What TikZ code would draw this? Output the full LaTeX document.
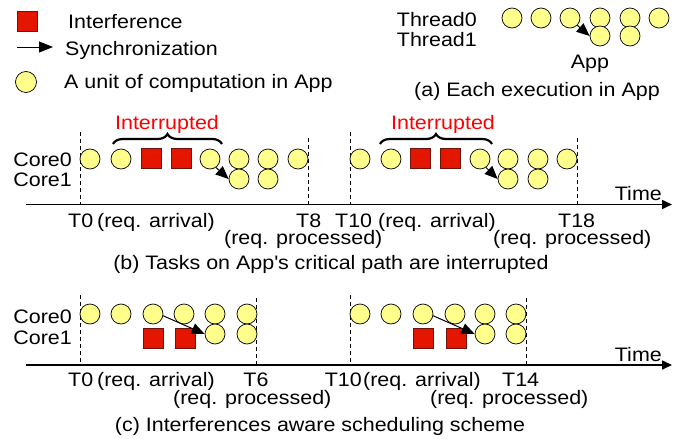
\documentclass[tikz,border=0pt]{standalone}
\usepackage{fontspec}
\setmainfont{Liberation Sans}[FakeStretch=1.1]
\usetikzlibrary{arrows.meta,decorations.pathreplacing}
\definecolor{unitfill}{RGB}{255,255,140}
\definecolor{intred}{RGB}{228,22,0}
\definecolor{intedge}{RGB}{110,20,10}
\definecolor{alertred}{RGB}{255,0,0}

\begin{document}
\begin{tikzpicture}[x=1pt,y=-1pt,
  unit/.style={circle,draw=black,line width=0.7pt,fill=unitfill,minimum size=20pt,inner sep=0pt},
  intf/.style={rectangle,draw=intedge,line width=0.7pt,fill=intred,minimum size=20pt,inner sep=0pt},
  sync/.style={line width=1pt,-{Triangle[length=13pt,width=11pt]}},
  fnt/.style={inner sep=0pt,font=\fontsize{19.5}{22}\selectfont},
  txt/.style={fnt,anchor=base west},
  ctxt/.style={fnt,anchor=base},
  rtxt/.style={fnt,anchor=base east},
  tick/.style={dashed,dash pattern=on 4pt off 3pt,line width=0.8pt},
  timeaxis/.style={line width=1.6pt,-{Triangle[length=10pt,width=9pt]}},
  brc/.style={decorate,decoration={brace,amplitude=10pt},line width=2.2pt}
]
\useasboundingbox (0,0) rectangle (689,439);

% ---------------- legend ----------------
\node[intf] (lgsq) at (27,21) {};
\node[txt] (lgint) at (68,28) {Interference};
\coordinate (lgA) at (17,47);
\coordinate (lgB) at (53,47);
\draw[line width=1pt,-{Triangle[length=14pt,width=11pt]}] (lgA) -- (lgB);
\node[txt] (lgsync) at (65,55) {Synchronization};
\node[unit,minimum size=21pt] (lgunit) at (26,82) {};
\node[txt] (lgunittxt) at (64,88) {A unit of computation in App};

% ---------------- (a) one execution ----------------
\node[rtxt] (th0) at (477,27) {Thread0};
\node[rtxt] (th1) at (477,46) {Thread1};
\foreach \x [count=\i] in {512,541,570,600,630,659}
  \node[unit] (a0\i) at (\x,18) {};
\foreach \x [count=\i] in {600,630}
  \node[unit] (a1\i) at (\x,36) {};
\draw[sync] (a03.-45) -- (a11.west);
\node[ctxt] (app) at (590,68) {App};
\node[ctxt] (capa) at (537,96) {(a) Each execution in App};

% ---------------- (b) interrupted ----------------
\node[rtxt] (bc0) at (72,166) {Core0};
\node[rtxt] (bc1) at (72,186) {Core1};
\coordinate (bax0) at (26,204.5);
\coordinate (bax1) at (672,204.5);
\draw[timeaxis] (bax0) -- (bax1);
\node[rtxt] (btime) at (662,200) {Time};

\foreach \xa/\top in {80/132, 308/138, 350/132, 577/138}
  \draw[tick] (\xa,\top) -- (\xa,204.5);

% first request
\node[unit] (b1) at (90,159) {};
\node[unit] (b2) at (121,159) {};
\node[intf] (bi1) at (151,158) {};
\node[intf] (bi2) at (181,158) {};
\node[unit] (b3) at (210,159) {};
\node[unit] (b4) at (239,159) {};
\node[unit] (b5) at (268,159) {};
\node[unit] (b6) at (298,159) {};
\node[unit] (bd1) at (239,179) {};
\node[unit] (bd2) at (268,179) {};
\draw[sync] (b3.-55) -- (bd1.west);
\coordinate (bbrL) at (113,144);
\coordinate (bbrR) at (222,144);
\draw[brc] (bbrL) -- (bbrR);
\node[ctxt,text=alertred] (bint) at (167,129) {Interrupted};

% second request
\node[unit] (b7) at (360,159) {};
\node[unit] (b8) at (391,159) {};
\node[intf] (bi3) at (420,158) {};
\node[intf] (bi4) at (450,158) {};
\node[unit] (b9) at (480,159) {};
\node[unit] (b10) at (508,159) {};
\node[unit] (b11) at (538,159) {};
\node[unit] (b12) at (567,159) {};
\node[unit] (bd3) at (508,179) {};
\node[unit] (bd4) at (538,179) {};
\draw[sync] (b9.-55) -- (bd3.west);
\coordinate (bbrL2) at (380,144);
\coordinate (bbrR2) at (492,144);
\draw[brc] (bbrL2) -- (bbrR2);
\node[ctxt,text=alertred] (bint2) at (443,129) {Interrupted};

\node[txt] (bt0) at (68,227) {T0};
\node[txt] (bra1) at (97,227) {(req. arrival)};
\node[txt] (bt8) at (296,227) {T8};
\node[txt] (bt10) at (335,227) {T10};
\node[txt] (bra2) at (378,227) {(req. arrival)};
\node[txt] (bt18) at (558,227) {T18};
\node[txt] (brp1) at (224,244) {(req. processed)};
\node[txt] (brp2) at (493,244) {(req. processed)};
\node[ctxt] (capb) at (331,269) {(b) Tasks on App\textquotesingle s critical path are interrupted};

% ---------------- (c) interference aware ----------------
\node[rtxt] (cc0) at (72,323) {Core0};
\node[rtxt] (cc1) at (72,344) {Core1};
\coordinate (cax0) at (26,365);
\coordinate (cax1) at (672,365);
\draw[timeaxis] (cax0) -- (cax1);
\node[rtxt] (ctime) at (662,361) {Time};

\foreach \xa/\top in {80/295, 256/298, 350/295, 526/298}
  \draw[tick] (\xa,\top) -- (\xa,365);

% first request
\foreach \x [count=\i] in {90,121,153,184,215,247}
  \node[unit] (c\i) at (\x,314) {};
\node[unit] (cd1) at (215,334) {};
\node[unit] (cd2) at (247,334) {};
\node[intf] (ci1) at (153,338) {};
\node[intf] (ci2) at (185,338) {};
\draw[sync] (c3.-10) -- (cd1.west);

% second request
\foreach \x [count=\i] in {360,391,423,455,485,516}
  \node[unit] (e\i) at (\x,314) {};
\node[unit] (ed1) at (485,334) {};
\node[unit] (ed2) at (516,334) {};
\node[intf] (ci3) at (423,338) {};
\node[intf] (ci4) at (456,338) {};
\draw[sync] (e3.-10) -- (ed1.west);

\node[txt] (ct0) at (68,386) {T0};
\node[txt] (cra1) at (97,386) {(req. arrival)};
\node[ctxt] (ct6) at (256,386) {T6};
\node[rtxt] (ct10) at (362,386) {T10};
\node[txt] (cra2) at (363,386) {(req. arrival)};
\node[txt] (ct14) at (502,386) {T14};
\node[txt] (crp1) at (173,404) {(req. processed)};
\node[txt] (crp2) at (430,404) {(req. processed)};
\node[ctxt] (capc) at (320,431) {(c) Interferences aware scheduling scheme};
\end{tikzpicture}
\end{document}
